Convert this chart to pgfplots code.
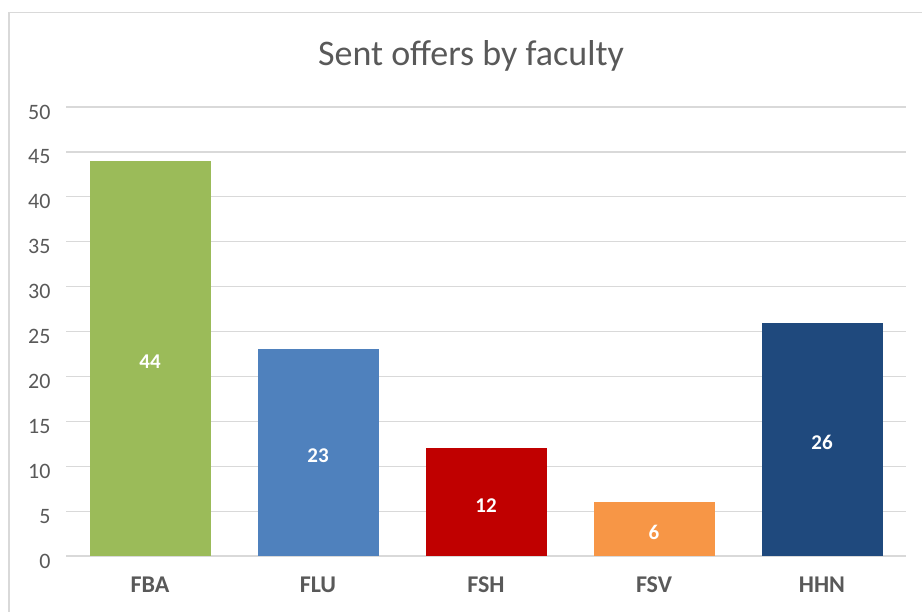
\documentclass[border=0pt]{standalone}
\usepackage{pgfplots}
\pgfplotsset{compat=1.18}
\usepackage{fontspec}
\setmainfont{Carlito}
\definecolor{txt}{HTML}{595959}
\definecolor{grd}{HTML}{D9D9D9}
\definecolor{cFBA}{HTML}{9BBB59}
\definecolor{cFLU}{HTML}{4F81BD}
\definecolor{cFSH}{HTML}{C00000}
\definecolor{cFSV}{HTML}{F79646}
\definecolor{cHHN}{HTML}{1F497D}
\begin{document}
\begin{tikzpicture}
\path[use as bounding box] (0,0) rectangle (922bp,-612bp);
\draw[grd, line width=1.2bp] (9bp,-612bp) -- (9bp,-12.5bp) -- (922bp,-12.5bp);
\node[txt, font=\fontsize{36bp}{40bp}\selectfont] at (471bp,-56bp) {Sent offers by faculty};
\begin{axis}[
  at={(66bp,-556bp)}, anchor=south west,
  scale only axis, width=840bp, height=449bp,
  xmin=-0.5, xmax=4.5, ymin=0, ymax=50,
  ytick={0,5,...,50},
  xtick={0,1,2,3,4},
  xticklabels={FBA,FLU,FSH,FSV,HHN},
  axis line style={draw=none},
  major tick length=0pt,
  ymajorgrids, grid style={grd, line width=1.2bp},
  yticklabel style={txt, font=\fontsize{22bp}{25bp}\selectfont, xshift=-12bp, yshift=-5bp},
  xticklabel style={txt, font=\fontsize{24bp}{28bp}\selectfont\bfseries, yshift=-17bp},
  /pgf/number format/assume math mode=true,
  ybar, bar width=121bp, bar shift=0pt,
  nodes near coords,
  visualization depends on=y \as \rawy,
  every node near coord/.append style={white, font=\fontsize{21bp}{25bp}\selectfont\bfseries, anchor=center, yshift=-3bp, shift={(axis direction cs:0,-\rawy/2)}},
]
\addplot[fill=cFBA, draw=none] coordinates {(0,44)};
\addplot[fill=cFLU, draw=none] coordinates {(1,23)};
\addplot[fill=cFSH, draw=none] coordinates {(2,12)};
\addplot[fill=cFSV, draw=none] coordinates {(3,6)};
\addplot[fill=cHHN, draw=none] coordinates {(4,26)};
\end{axis}
\end{tikzpicture}
\end{document}
